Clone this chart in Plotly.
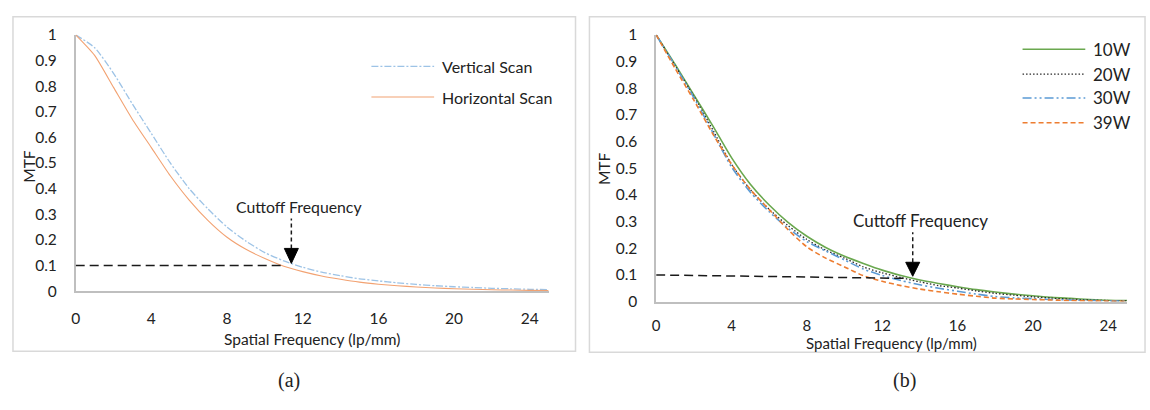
import plotly.graph_objects as go

W, H = 1150, 410

# ---------------- data ----------------
freq = list(range(0, 26))  # lp/mm

# panel (a)
vertical_scan = [1, 0.95, 0.85, 0.73, 0.615, 0.5, 0.4, 0.32, 0.25, 0.195, 0.15, 0.118, 0.093,
                 0.074, 0.06, 0.048, 0.04, 0.032, 0.026, 0.021, 0.017, 0.014, 0.011, 0.009, 0.007, 0.006]
horizontal_scan = [1, 0.92, 0.795, 0.67, 0.56, 0.45, 0.355, 0.275, 0.21, 0.163, 0.127, 0.097, 0.076,
                   0.059, 0.046, 0.035, 0.027, 0.021, 0.016, 0.012, 0.009, 0.007, 0.005, 0.004, 0.003, 0.002]

# panel (b)
mtf_10w = [1, 0.89, 0.775, 0.66, 0.54, 0.44, 0.362, 0.297, 0.245, 0.203, 0.17, 0.143, 0.118,
           0.098, 0.081, 0.068, 0.056, 0.045, 0.036, 0.028, 0.022, 0.016, 0.012, 0.008, 0.005, 0.004]
mtf_20w = [1, 0.885, 0.77, 0.645, 0.515, 0.42, 0.346, 0.285, 0.233, 0.193, 0.163, 0.13, 0.108,
           0.09, 0.074, 0.06, 0.051, 0.04, 0.031, 0.024, 0.018, 0.013, 0.009, 0.006, 0.004, 0.003]
mtf_30w = [1, 0.885, 0.765, 0.635, 0.505, 0.41, 0.337, 0.275, 0.225, 0.19, 0.156, 0.122, 0.098,
           0.079, 0.063, 0.05, 0.039, 0.028, 0.019, 0.014, 0.011, 0.008, 0.006, 0.004, 0.003, 0.002]
mtf_39w = [1, 0.875, 0.755, 0.63, 0.515, 0.42, 0.345, 0.27, 0.205, 0.163, 0.13, 0.097, 0.076,
           0.06, 0.047, 0.037, 0.028, 0.02, 0.013, 0.01, 0.008, 0.006, 0.004, 0.003, 0.002, 0.001]

x_ticks = [0, 4, 8, 12, 16, 20, 24]
y_ticks = [0, 0.1, 0.2, 0.3, 0.4, 0.5, 0.6, 0.7, 0.8, 0.9, 1]
y_tick_text = ["0", "0.1", "0.2", "0.3", "0.4", "0.5", "0.6", "0.7", "0.8", "0.9", "1"]

# cutoff marks (data coords)
cut_a = (11.4, 0.108)
cut_b = (13.62, 0.095)

FONT = "Lato, 'Open Sans', sans-serif"
TXT = "#222222"


def px(x):
    return x / W


def py(y):
    return 1 - y / H


fig = go.Figure()

# panel (a)
fig.add_trace(go.Scatter(x=freq, y=vertical_scan, mode="lines", name="Vertical Scan",
                         line=dict(color="#9DC3E6", width=1.3, dash="7px,2px,2px,2px",
                                   shape="spline", smoothing=0.6),
                         xaxis="x", yaxis="y", showlegend=False))
fig.add_trace(go.Scatter(x=freq, y=horizontal_scan, mode="lines", name="Horizontal Scan",
                         line=dict(color="#F2A272", width=1.1, shape="spline", smoothing=0.6),
                         xaxis="x", yaxis="y", showlegend=False))

# panel (b)
series_b = [
    ("10W", mtf_10w, dict(color="#6AA84F", width=1.6, dash="solid")),
    ("20W", mtf_20w, dict(color="#2A2A2A", width=1.3, dash="1.5px,2px")),
    ("30W", mtf_30w, dict(color="#5B9BD5", width=1.6, dash="9px,3px,2px,3px,2px,3px")),
    ("39W", mtf_39w, dict(color="#ED7D31", width=1.6, dash="5px,3px")),
]
for name, vals, ln in series_b:
    ln = dict(ln, shape="spline", smoothing=0.7)
    fig.add_trace(go.Scatter(x=freq, y=vals, mode="lines", name=name, line=ln,
                             xaxis="x2", yaxis="y2", showlegend=False))

axis_common = dict(showgrid=False, zeroline=False, showline=True, linecolor="#BFBFBF",
                   linewidth=1.5, ticks="", tickfont=dict(family=FONT, size=15.5, color=TXT),
                   fixedrange=True)

fig.update_layout(
    width=W, height=H,
    margin=dict(l=0, r=0, t=0, b=0),
    paper_bgcolor="white", plot_bgcolor="white",
    showlegend=False,
    xaxis=dict(axis_common, domain=[px(71), px(546)], range=[0, 25], tickvals=x_ticks,
               ticklabelstandoff=13, anchor="y"),
    yaxis=dict(axis_common, domain=[py(294), py(26)], range=[0, 1], tickvals=y_ticks,
               ticktext=y_tick_text, ticklabelstandoff=14, anchor="x"),
    xaxis2=dict(axis_common, domain=[px(654), px(1127)], range=[0, 25], tickvals=x_ticks,
                ticklabelstandoff=10, anchor="y2",
                tickfont=dict(family=FONT, size=15, color=TXT)),
    yaxis2=dict(axis_common, domain=[py(305), py(26)], range=[0, 1], tickvals=y_ticks,
                ticktext=y_tick_text, ticklabelstandoff=14, anchor="x2"),
)

shapes = []
# panel borders
for (x0, y0, x1, y1) in [(8, 7, 573, 357), (587, 7, 1145, 358)]:
    shapes.append(dict(type="rect", xref="paper", yref="paper", x0=px(x0), x1=px(x1),
                       y0=py(y1), y1=py(y0), line=dict(color="#D9D9D9", width=1.5),
                       fillcolor="rgba(0,0,0,0)", layer="below"))

# cutoff dashed guide lines
shapes.append(dict(type="line", xref="x", yref="y", x0=0, y0=0.1, x1=10.95, y1=0.1,
                   line=dict(color="#1a1a1a", width=1.5, dash="9px,5px")))
shapes.append(dict(type="line", xref="x2", yref="y2", x0=0, y0=0.1, x1=13.3, y1=0.087,
                   line=dict(color="#1a1a1a", width=1.5, dash="9px,5px")))

# arrows: dashed shafts + triangle heads
for xr, yr, (cx, cy), shaft_len, head_h in [("x", "y", cut_a, 30, 15), ("x2", "y2", cut_b, 30, 14)]:
    shapes.append(dict(type="path", xref=xr, yref=yr, xsizemode="pixel", ysizemode="pixel",
                       xanchor=cx, yanchor=cy,
                       path=f"M0,{head_h} L0,{head_h + shaft_len}",
                       line=dict(color="#1a1a1a", width=1.5, dash="4px,3px")))
    shapes.append(dict(type="path", xref=xr, yref=yr, xsizemode="pixel", ysizemode="pixel",
                       xanchor=cx, yanchor=cy,
                       path=f"M0,0 L-7,{head_h} L7,{head_h} Z",
                       fillcolor="#000000", line=dict(color="#000000", width=1)))

# legend samples (panel a)
leg_a = [(59, dict(color="#9DC3E6", width=1.3, dash="7px,2px,2px,2px")),
         (91, dict(color="#F2A272", width=1.1, dash="solid"))]
for yy, ln in leg_a:
    shapes.append(dict(type="line", xref="paper", yref="paper", x0=px(368), x1=px(431),
                       y0=py(yy), y1=py(yy), line=ln))
# legend samples (panel b)
leg_b_y = [41, 67, 92, 118]
for yy, (_, _, ln) in zip(leg_b_y, series_b):
    shapes.append(dict(type="line", xref="paper", yref="paper", x0=px(1022), x1=px(1085),
                       y0=py(yy), y1=py(yy), line=ln))

fig.update_layout(shapes=shapes)

ann = []


def text(x, y, s, size=15, xanchor="center", angle=0, family=FONT):
    ann.append(dict(x=px(x), y=py(y), xref="paper", yref="paper", text=s, showarrow=False,
                    xanchor=xanchor, yanchor="middle", textangle=angle,
                    font=dict(family=family, size=size, color=TXT)))


text(437, 59, "Vertical Scan", 16, "left")
text(437, 91, "Horizontal Scan", 16, "left")
for yy, (name, _, _) in zip(leg_b_y, series_b):
    text(1091, yy, name, 17, "left")

text(295, 206, "Cuttoff Frequency", 15.8)
text(919, 220, "Cuttoff Frequency", 17)

text(308, 344, "Spatial Frequency (lp/mm)", 15.5)
text(890, 348, "Spatial Frequency (lp/mm)", 15)
text(24, 163, "MTF", 15.5, angle=-90)
text(601, 166, "MTF", 15.5, angle=-90)

text(285, 387, "(a)", 20, family="'Liberation Serif', 'Times New Roman', serif")
text(903, 387, "(b)", 20, family="'Liberation Serif', 'Times New Roman', serif")

fig.update_layout(annotations=ann)

fig.write_html("out.html")
